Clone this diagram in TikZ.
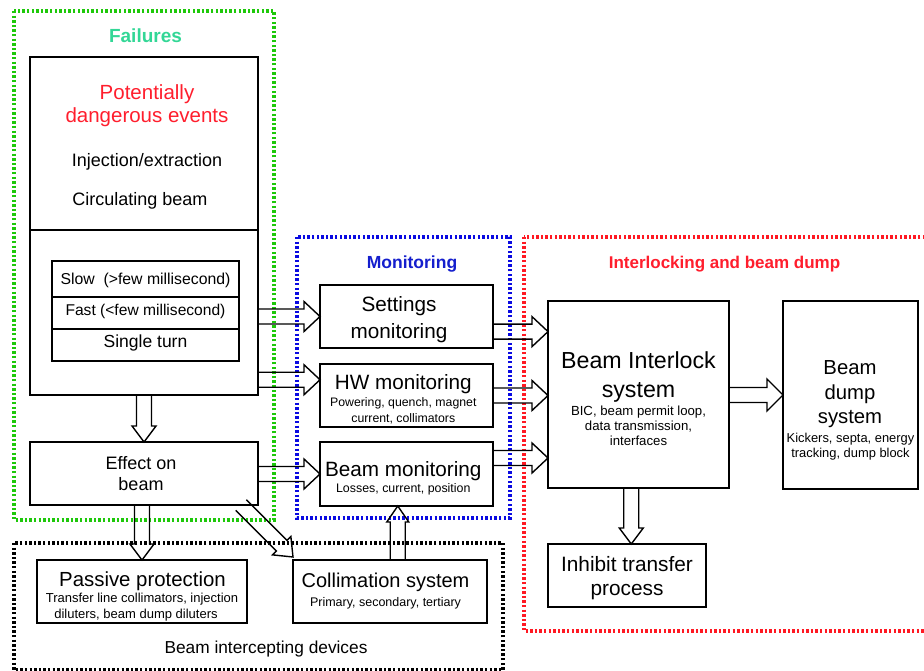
\documentclass[tikz,border=0pt]{standalone}
\usepackage{fontspec}
\setmainfont{Liberation Sans}
\usetikzlibrary{calc}
\definecolor{grnbox}{RGB}{30,200,10}
\definecolor{grntxt}{RGB}{50,215,150}
\definecolor{blubox}{RGB}{10,10,225}
\definecolor{blutxt}{RGB}{20,30,205}
\definecolor{redbox}{RGB}{255,25,35}
\definecolor{redtxt}{RGB}{255,30,45}
\tikzset{
  box/.style={draw, line width=1.9pt, inner sep=0pt, outer sep=0pt},
  cell/.style={draw, line width=1.3pt, inner sep=0pt, outer sep=0pt, minimum width=187pt},
  frame/.style={line width=3.2pt, dash pattern=on 2.4pt off 2.2pt},
  txt/.style={anchor=base, inner sep=0pt, outer sep=0pt},
  arrline/.style={draw, line width=1.4pt, line join=miter},
}
\newcommand\fs[1]{\fontsize{#1}{#1}\selectfont}
% hollow arrow: #1 head half width, #2 start, #3 tip
\newcommand\harr[3][13]{%
  \coordinate (hA) at #2; \coordinate (hB) at #3;
  \coordinate (hH) at ($(hB)!16pt!(hA)$);
  \draw[arrline] ($(hA)!7.5pt!90:(hB)$) -- ($(hH)!7.5pt!-90:(hA)$) -- ($(hH)!#1pt!-90:(hA)$) -- (hB)
     -- ($(hH)!#1pt!90:(hA)$) -- ($(hH)!7.5pt!90:(hA)$) -- ($(hA)!7.5pt!-90:(hB)$);
}
\begin{document}
\begin{tikzpicture}[x=1pt,y=-1pt]
\clip (0,0) rectangle (924,671);
\fill[white] (0,0) rectangle (924,671);

% dotted frames
\draw[frame, grnbox] (14,11) rectangle (274,520);
\draw[frame, blubox] (297,237) rectangle (510,518);
\draw[frame, redbox] (524,237) rectangle (940,631);
\draw[frame, black] (14,543) rectangle (503,670);

% frame titles
\node[txt, text=grntxt, font=\fs{19}\bfseries] (tfail) at (145.5,43) {Failures};
\node[txt, text=blutxt, font=\fs{17.5}\bfseries] (tmon) at (412,269) {Monitoring};
\node[txt, text=redtxt, font=\fs{17}\bfseries] (tint) at (724.5,269) {Interlocking and beam dump};
\node[txt, font=\fs{17.3}] (tbid) at (266,653) {Beam intercepting devices};

% boxes
\node[box, minimum width=228pt, minimum height=338pt] (main) at (144,226) {};
\draw[line width=1.2pt] (main.west |- 0,230) -- (main.east |- 0,230);
\node[cell, minimum height=36pt] (slow) at (145.5,279) {};
\node[cell, minimum height=32pt] (fast) at (145.5,313) {};
\node[cell, minimum height=32pt] (single) at (145.5,345) {};
\node[box, minimum width=228pt, minimum height=63pt] (eff) at (144,473.5) {};
\node[box, minimum width=173pt, minimum height=63pt] (set) at (406.5,316.5) {};
\node[box, minimum width=173pt, minimum height=63pt] (hw) at (406.5,395.5) {};
\node[box, minimum width=173pt, minimum height=64pt] (bm) at (406.5,474) {};
\node[box, minimum width=181pt, minimum height=187pt] (bic) at (638.5,394.5) {};
\node[box, minimum width=135pt, minimum height=188pt] (dump) at (850.5,395) {};
\node[box, minimum width=158pt, minimum height=63pt] (inh) at (627,575.5) {};
\node[box, minimum width=210pt, minimum height=63pt] (pas) at (142,591.5) {};
\node[box, minimum width=194pt, minimum height=63pt] (col) at (390,591.5) {};

% texts
\node[txt, text=redtxt, font=\fs{20.5}] (tp1) at (147,99.5) {Potentially};
\node[txt, text=redtxt, font=\fs{20.5}] (tp2) at (147,123) {dangerous events};
\node[txt, font=\fs{18}] (tinj) at (147,167) {Injection/extraction};
\node[txt, font=\fs{18}] (tcirc) at (140,206) {Circulating beam};
\node[txt, font=\fs{15.8}] (tslow) at (145.5,284) {Slow\ \ (>few millisecond)};
\node[txt, font=\fs{15.6}] (tfast) at (145.5,315) {Fast (<few millisecond)};
\node[txt, font=\fs{17.5}] (tsing) at (145.5,347) {Single turn};
\node[txt, font=\fs{18}] (teff1) at (141,469) {Effect on};
\node[txt, font=\fs{18}] (teff2) at (141,490) {beam};

\node[txt, font=\fs{20.7}] (tset1) at (399,312) {Settings};
\node[txt, font=\fs{20.7}] (tset2) at (399,338) {monitoring};
\node[txt, font=\fs{20.7}] (thw1) at (403.3,389) {HW monitoring};
\node[txt, font=\fs{12.3}] (thw2) at (403.3,406) {Powering, quench, magnet};
\node[txt, font=\fs{12.3}] (thw3) at (403.3,422) {current, collimators};
\node[txt, font=\fs{20.7}] (tbm1) at (403.3,476) {Beam monitoring};
\node[txt, font=\fs{12.4}] (tbm2) at (403.3,492) {Losses, current, position};

\node[txt, font=\fs{23.2}] (tbic1) at (638.5,368) {Beam Interlock};
\node[txt, font=\fs{23.2}] (tbic2) at (638.5,397) {system};
\node[txt, font=\fs{13.2}] (tbic3) at (638.5,415) {BIC, beam permit loop,};
\node[txt, font=\fs{13.2}] (tbic4) at (638.5,430) {data transmission,};
\node[txt, font=\fs{13.2}] (tbic5) at (638.5,445) {interfaces};

\node[txt, font=\fs{20.3}] (td1) at (850,374) {Beam};
\node[txt, font=\fs{20.3}] (td2) at (850,399) {dump};
\node[txt, font=\fs{20.3}] (td3) at (850,423) {system};
\node[txt, font=\fs{12.9}] (td4) at (850.5,442) {Kickers, septa, energy};
\node[txt, font=\fs{12.9}] (td5) at (850.5,457) {tracking, dump block};

\node[txt, font=\fs{20.8}] (tinh1) at (627,571) {Inhibit transfer};
\node[txt, font=\fs{20.8}] (tinh2) at (627,595) {process};

\node[txt, font=\fs{20.4}] (tpas1) at (142.5,586) {Passive protection};
\node[txt, font=\fs{13}] (tpas2) at (142,602) {Transfer line collimators, injection};
\node[txt, font=\fs{13}] (tpas3) at (136,618) {diluters, beam dump diluters};
\node[txt, font=\fs{20}] (tcol1) at (385.5,587) {Collimation system};
\node[txt, font=\fs{12.5}] (tcol2) at (385.5,606) {Primary, secondary, tertiary};

% connection points
\coordinate (hwin) at ($(hw.north west)!0.25!(hw.south west)$);
\coordinate (setout) at ($(set.north east)!0.74!(set.south east)$);
\coordinate (bmout) at ($(bm.north east)!0.25!(bm.south east)$);
\coordinate (bicdown) at ($(bic.south west)!0.46!(bic.south east)$);
\coordinate (colup) at ($(col.north west)!0.54!(col.north east)$);
\coordinate (effdiag) at ($(eff.south east)+(-17,0)$);

% hollow arrows
\harr[12]{(main.south)}{(eff.north)}
\harr[15]{(main.east |- set.west)}{(set.west)}
\harr[15]{(main.east |- hwin)}{(hwin)}
\harr[15]{(eff.east |- bm.west)}{(bm.west)}
\harr[15]{(setout)}{(bic.west |- setout)}
\harr[15]{(hw.east)}{(bic.west |- hw.east)}
\harr[15]{(bmout)}{(bic.west |- bmout)}
\harr[16]{(bic.east |- dump.west)}{(dump.west)}
\harr[12]{(bicdown)}{(inh.north -| bicdown)}
\harr[12]{(eff.south -| pas.north)}{(pas.north)}
\harr[13]{(effdiag)}{($(col.north west)+(0,-3)$)}
\harr[11]{(colup)}{(bm.south -| colup)}
\end{tikzpicture}
\end{document}
